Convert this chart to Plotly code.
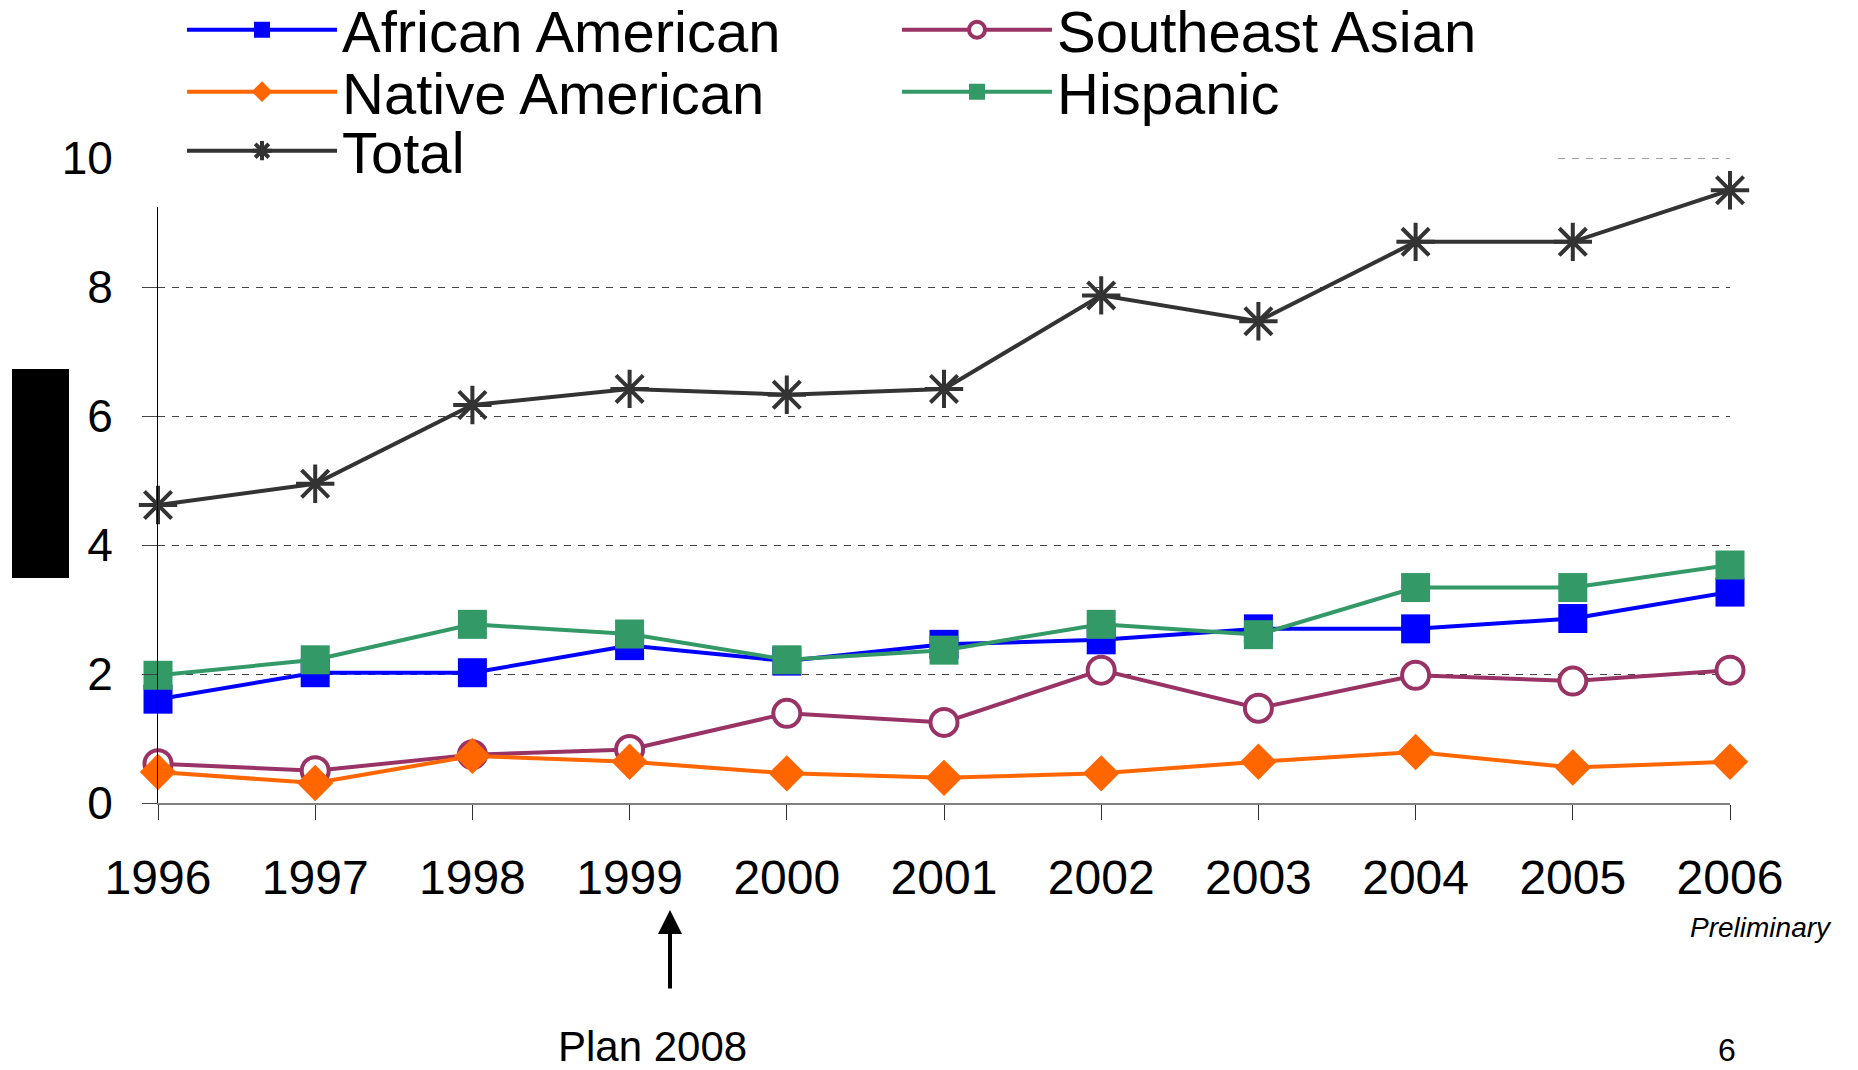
import plotly.graph_objects as go

years = [1996, 1997, 1998, 1999, 2000, 2001, 2002, 2003, 2004, 2005, 2006]
tick_labels = ["1996", "1997", "1998", "1999", "2000", "2001", "2002", "2003", "2004", "2005", "2006"]

african_american = [1.61, 2.02, 2.02, 2.44, 2.20, 2.46, 2.53, 2.70, 2.70, 2.86, 3.27]
southeast_asian = [0.61, 0.50, 0.75, 0.83, 1.39, 1.25, 2.06, 1.47, 1.98, 1.89, 2.06]
native_american = [0.48, 0.31, 0.73, 0.64, 0.46, 0.39, 0.46, 0.64, 0.79, 0.55, 0.64]
hispanic = [1.98, 2.22, 2.77, 2.62, 2.22, 2.37, 2.77, 2.61, 3.34, 3.34, 3.69]
total = [4.62, 4.95, 6.17, 6.42, 6.33, 6.42, 7.87, 7.47, 8.70, 8.70, 9.50]

FONT = "Liberation Sans, Arial, sans-serif"

fig = go.Figure()

fig.add_trace(go.Scatter(
    x=years, y=african_american, name="African American", mode="lines+markers",
    line=dict(color="#0000FF", width=4),
    marker=dict(symbol="square", size=29, color="#0000FF"),
    cliponaxis=False, legend="legend"))
fig.add_trace(go.Scatter(
    x=years, y=southeast_asian, name="Southeast Asian", mode="lines+markers",
    line=dict(color="#993366", width=4),
    marker=dict(symbol="circle", size=27, color="white", line=dict(color="#993366", width=4)),
    cliponaxis=False, legend="legend"))
fig.add_trace(go.Scatter(
    x=years, y=native_american, name="Native American", mode="lines+markers",
    line=dict(color="#FF6600", width=4),
    marker=dict(symbol="diamond", size=28, color="#FF6600"),
    cliponaxis=False, legend="legend2"))
fig.add_trace(go.Scatter(
    x=years, y=hispanic, name="Hispanic", mode="lines+markers",
    line=dict(color="#339966", width=4),
    marker=dict(symbol="square", size=29, color="#339966"),
    cliponaxis=False, legend="legend2"))
fig.add_trace(go.Scatter(
    x=years, y=total, name="Total", mode="lines+markers",
    line=dict(color="#333333", width=4),
    marker=dict(symbol="asterisk-open", size=32, color="#333333", line=dict(color="#333333", width=4)),
    cliponaxis=False, legend="legend3"))

L, R, T, B = 158, 128, 158, 267
W, H = 1858, 1070
PW, PH = W - L - R, H - T - B

def px(x):
    return (x - L) / PW

def py(y):
    return (H - B - y) / PH

ITEMW = 150
ENTRYW = 550

def legend_row(center_y):
    return dict(
        orientation="h",
        x=px(182), y=py(center_y), xanchor="left", yanchor="middle",
        font=dict(size=58, family=FONT, color="black"),
        itemwidth=ITEMW,
        entrywidth=ENTRYW, entrywidthmode="pixels",
        bgcolor="rgba(0,0,0,0)", borderwidth=0,
        traceorder="normal",
    )

fig.update_layout(
    width=W, height=H,
    margin=dict(l=L, r=R, t=T, b=B, pad=0, autoexpand=False),
    plot_bgcolor="white", paper_bgcolor="white",
    font=dict(family=FONT, color="black"),
    showlegend=True,
    legend=legend_row(30),
    legend2=legend_row(92),
    legend3=legend_row(151),
    xaxis=dict(
        range=[1996, 2006], tickmode="array", tickvals=years, ticktext=tick_labels,
        showgrid=False, zeroline=False,
        showline=True, linecolor="#808080", linewidth=2,
        ticks="outside", ticklen=15, tickwidth=1, tickcolor="#333333",
        tickfont=dict(size=48, family=FONT, color="black"),
        ticklabelstandoff=16,
    ),
    yaxis=dict(
        range=[0, 10], tickvals=[0, 2, 4, 6, 8, 10],
        showgrid=True, gridcolor="#444444", gridwidth=1, griddash="7px,7px",
        zeroline=False,
        showline=True, linecolor="black", linewidth=1,
        ticks="outside", ticklen=15, tickwidth=1, tickcolor="#444444",
        tickfont=dict(size=46, family=FONT, color="black"),
        ticklabelstandoff=20,
    ),
    shapes=[
        # gridline at the top value (plotly skips it at the axis edge)
        dict(type="line", xref="x", yref="y", layer="below",
             x0=years[0], x1=years[-1], y0=10, y1=10,
             line=dict(color="#444444", width=1, dash="7px,7px")),
        # white area behind legend (hides top of axis and gridline)
        dict(type="rect", xref="paper", yref="paper", layer="above",
             x0=px(136), x1=px(1556), y0=py(207), y1=py(0),
             fillcolor="white", line=dict(width=0)),
        # black block on the left
        dict(type="rect", xref="paper", yref="paper", layer="above",
             x0=px(12), x1=px(69), y0=py(578), y1=py(369),
             fillcolor="black", line=dict(width=0)),
    ],
    annotations=[
        dict(text="", xref="paper", yref="paper", x=px(670), y=py(910),
             showarrow=True, ax=0, ay=80, arrowhead=2, arrowsize=1.2,
             arrowwidth=4, arrowcolor="black"),
        dict(text="Plan 2008", xref="paper", yref="paper", x=px(652), y=py(1046),
             showarrow=False, xanchor="center", yanchor="middle",
             font=dict(size=42, family=FONT, color="black")),
        dict(text="<i>Preliminary</i>", xref="paper", yref="paper", x=px(1834), y=py(927),
             showarrow=False, xanchor="right", yanchor="middle",
             font=dict(size=28, family=FONT, color="black")),
        dict(text="6", xref="paper", yref="paper", x=px(1727), y=py(1050),
             showarrow=False, xanchor="center", yanchor="middle",
             font=dict(size=32, family=FONT, color="black")),
    ],
)

fig.write_html("out.html")
